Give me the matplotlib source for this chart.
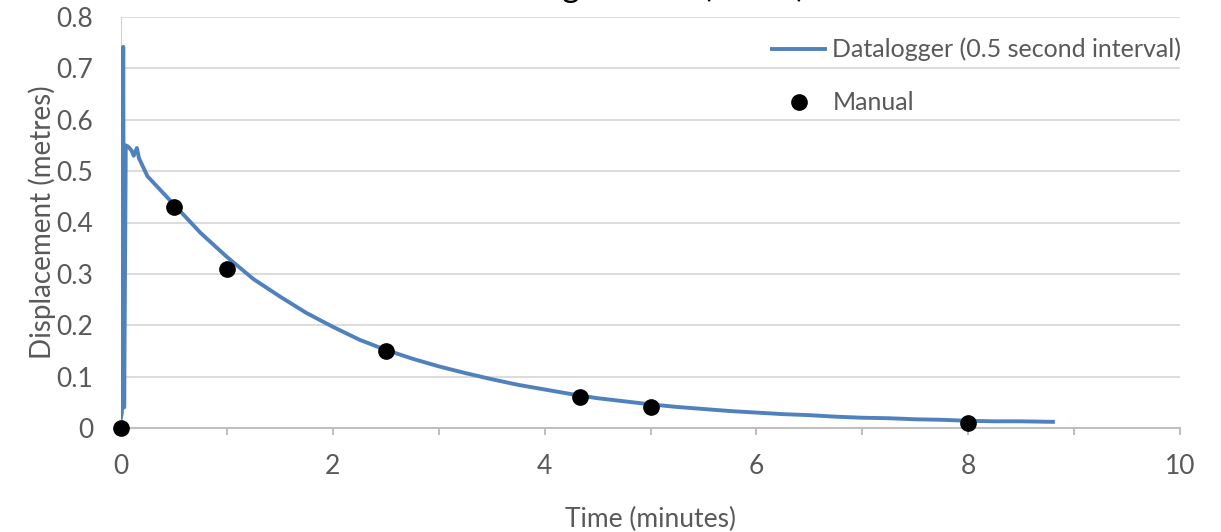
import matplotlib
matplotlib.use("Agg")
from matplotlib import pyplot as plt
from matplotlib.ticker import MultipleLocator, FuncFormatter

#   Datalogger readings (0.5 second interval)
logger_time = [0.0, 0.008, 0.021, 0.03, 0.045, 0.066, 0.1, 0.12, 0.15, 0.17,
               0.25, 0.5, 0.75, 1.0, 1.25, 1.5, 1.75, 2.0, 2.25, 2.5,
               2.75, 3.0, 3.25, 3.5, 3.75, 4.0, 4.25, 4.5, 4.75, 5.0,
               5.25, 5.5, 5.75, 6.0, 6.25, 6.5, 6.75, 7.0, 7.25, 7.5,
               7.75, 8.0, 8.25, 8.5, 8.8]
logger_disp = [0.02, 0.03, 0.742, 0.04, 0.55, 0.548, 0.54, 0.53, 0.545, 0.525,
               0.49, 0.435, 0.38, 0.333, 0.29, 0.256, 0.224, 0.197, 0.172, 0.152,
               0.135, 0.12, 0.107, 0.095, 0.084, 0.075, 0.066, 0.058, 0.052, 0.046,
               0.041, 0.037, 0.033, 0.030, 0.027, 0.025, 0.022, 0.020, 0.019, 0.017,
               0.016, 0.014, 0.013, 0.013, 0.012]

#   Manual readings
manual_time = [0, 0.5, 1, 2.5, 4.33, 5, 8]
manual_disp = [0, 0.43, 0.31, 0.15, 0.06, 0.04, 0.01]

grey = '#595959'
plt.rcParams['font.family'] = ['Lato', 'DejaVu Sans']

fig = plt.figure(figsize=(12.21, 5.32), dpi=100)
ax = fig.add_axes([121 / 1221, 104 / 532, 1059 / 1221, 411 / 532])

ax.plot(logger_time, logger_disp, color='#4f81bd', linewidth=2.8,
        label='Datalogger (0.5 second interval)', zorder=3)
ax.plot(manual_time, manual_disp, 'o', color='black', markersize=11,
        label='Manual', zorder=4, clip_on=False)

ax.set_xlim(0, 10)
ax.set_ylim(0, 0.8)
ax.xaxis.set_major_locator(MultipleLocator(1))
ax.yaxis.set_major_locator(MultipleLocator(0.1))
ax.xaxis.set_major_formatter(FuncFormatter(lambda v, p: '%g' % v if round(v) % 2 == 0 else ''))
ax.yaxis.set_major_formatter(FuncFormatter(lambda v, p: '%g' % round(v, 1)))

ax.grid(axis='y', color='#d9d9d9', linewidth=1.3)
ax.set_axisbelow(True)
for s in ['top', 'right']:
    ax.spines[s].set_visible(False)
ax.spines['left'].set_color('#d0d0d0')
ax.spines['bottom'].set_color('#bfbfbf')
ax.spines['bottom'].set_linewidth(1.5)
ax.tick_params(axis='y', length=0, pad=20, labelsize=19, labelcolor=grey)
ax.tick_params(axis='x', length=5, width=1.5, color='#bfbfbf', pad=14, labelsize=19, labelcolor=grey)

ax.set_xlabel('Time (minutes)', fontsize=19, color=grey, labelpad=20)
ax.set_ylabel('Displacement (metres)', fontsize=20, color=grey, labelpad=0)

leg = ax.legend(loc='upper right', bbox_to_anchor=(1.013, 0.98), frameon=False,
                fontsize=18, handlelength=2.1, handletextpad=0.3,
                labelspacing=1.2, borderpad=0, labelcolor=grey)

#   Title sits mostly above the image edge
fig.text(805 / 1221, 1.006, 'Water Level Monitoring Results (MW1)', ha='right',
         va='baseline', fontsize=24, color='black')

fig.savefig('out.png', dpi=100)
